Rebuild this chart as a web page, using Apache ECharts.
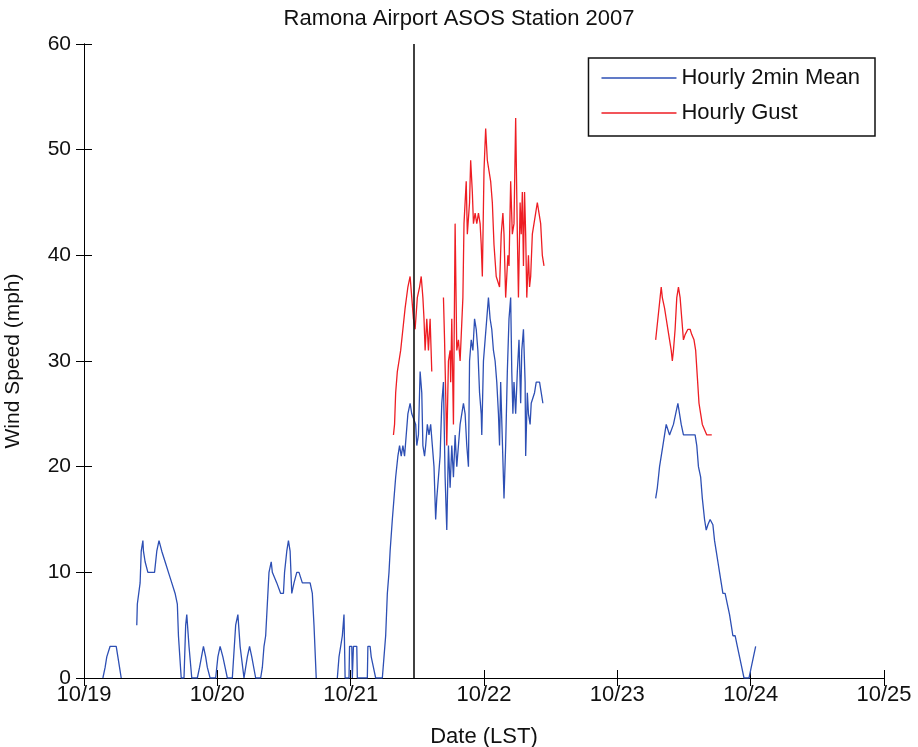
<!DOCTYPE html>
<html>
<head>
<meta charset="utf-8">
<script src="https://cdn.jsdelivr.net/npm/echarts@6/dist/echarts.min.js"></script>
<style>
html,body{margin:0;padding:0;background:#fff;}
#chart{width:918px;height:747px;}
</style>
</head>
<body>
<div id="chart"></div>
<script>
// Hours since 10/19 00:00 LST, wind speed (mph)
var tickLabels = ['10/19','10/20','10/21','10/22','10/23','10/24','10/25'];
var eventHour = 59.3; // vertical marker line

var meanEarly = [
 [3.4,0],[3.8,1],[4.1,2],[4.7,3],[5.8,3],[6.1,2],[6.4,1],[6.7,0]
];
var meanDay19b = [
 [9.5,5],[9.6,7],[10.1,9],[10.3,12],[10.6,13],[10.7,12],[11.0,11],[11.5,10],[12.7,10],
 [13.1,12],[13.5,13],[14.0,12],[14.6,11],[15.2,10],[15.8,9],[16.4,8],[16.8,7],[17.0,4],
 [17.5,0],[18.0,0],[18.3,5],[18.5,6],[18.9,3],[19.4,0],[20.4,0],[20.8,1],[21.15,2],[21.5,3],
 [21.9,2],[22.2,1],[22.7,0],[23.7,0],[24.1,2],[24.5,3],[25.0,2],[25.4,1],[25.8,0],[26.7,0],
 [27.3,5],[27.7,6],[28.1,3],[28.8,0],[29.0,0],[29.4,2],[29.8,3],[30.2,2],[30.9,0],[31.8,0],
 [32.1,1],[32.4,3],[32.7,4],[33.0,7],[33.3,10],[33.7,11],[33.9,10],[34.2,10],[34.7,9],[35.4,8],
 [35.9,8],[36.1,10],[36.5,12],[36.8,13],[37.1,12],[37.4,8],[37.8,9],[38.3,10],[38.7,10],[39.3,9],
 [40.7,9],[41.1,8],[41.4,5],[41.8,0]
];
var meanDay21 = [
 [45.6,0],[45.9,2],[46.2,3],[46.5,4],[46.8,6],[47.0,0],[47.7,0],[47.8,3],[48.2,3],[48.3,0],
 [48.5,3],[49.1,3],[49.2,0],[51.0,0],[51.1,3],[51.5,3],[51.7,2],[52.1,1],[52.5,0],[53.7,0],
 [54.0,2],[54.3,4],[54.6,8],[54.9,10],[55.1,12],[55.5,15],[55.8,17],[56.1,19],[56.5,21],[56.8,22],
 [57.1,21],[57.4,22],[57.7,21],[58.0,23],[58.3,25],[58.7,26],[59.0,25],[59.3,25],[59.7,24],[59.9,22],
 [60.2,23],[60.5,29],[60.8,27],[61.0,22],[61.3,21],[61.5,22],[61.8,24],[62.1,23],[62.4,24],[62.7,22],
 [63.0,20],[63.3,15],[63.5,17],[63.8,19],[64.1,21],[64.4,26],[64.7,28],[65.0,19],[65.3,14],[65.6,22],
 [65.9,18],[66.2,22],[66.5,19],[66.8,23],[67.1,20],[67.4,22],[67.7,24],[68.0,25],[68.3,26],[68.6,25],
 [68.9,22],[69.2,20],[69.4,30],[69.7,32],[70.0,31],[70.3,34],[70.6,33],[70.9,31],[71.2,27],[71.5,25],
 [71.6,23],[71.9,30],[72.2,32],[72.5,34],[72.8,36],[73.1,34],[73.4,33],[73.7,31],[74.0,30],[74.3,28],
 [74.6,25],[74.8,22],[75.0,28],[75.3,28],[75.6,17],[75.9,22],[76.2,29],[76.5,34],[76.8,36],[77.0,29],
 [77.2,25],[77.4,28],[77.7,25],[78.0,29],[78.3,32],[78.6,26],[78.8,31],[79.1,33],[79.4,28],[79.5,21],
 [79.8,27],[80.0,25],[80.3,24],[80.5,26],[80.8,26],[81.1,27],[81.4,28],[81.7,28],[82.0,28],[82.3,27],
 [82.6,26]
];
var meanDay23 = [
 [102.9,17],[103.2,18],[103.4,19],[103.6,20],[103.9,21],[104.2,22],[104.5,23],[104.8,24],[105.1,24],
 [105.4,23],[105.7,23],[106.1,24],[106.5,25],[106.9,26],[107.2,25],[107.5,24],[107.9,23],[110.0,23],
 [110.3,22],[110.6,20],[111.0,19],[111.3,17],[111.7,15],[112.0,14],[112.3,14.5],[112.7,15],[113.2,14.5],
 [113.5,13],[113.8,12],[114.1,11],[114.4,10],[114.7,9],[115.0,8],[115.4,8],[115.8,7],[116.2,6],
 [116.5,5],[116.8,4],[117.2,4],[117.6,3],[118.0,2],[118.4,1],[118.8,0],[119.7,0],[120.1,1],
 [120.5,2],[120.9,3]
];
var gustDay21a = [
 [55.7,23],[55.9,24],[56.1,27],[56.4,29],[56.7,30],[57.0,31],[57.4,33],[57.8,35],[58.3,37],[58.7,38],
 [59.0,36],[59.3,34],[59.6,33],[60.0,36],[60.4,37],[60.7,38],[61.0,36],[61.2,34],[61.4,31],[61.7,34],
 [62.0,31],[62.3,34],[62.6,29]
];
var gustDay21b = [
 [64.7,36],[64.9,32],[65.3,22],[65.6,30],[65.9,31],[66.0,28],[66.2,34],[66.5,24],[66.8,43],[67.1,31],
 [67.4,32],[67.7,30],[68.2,36],[68.4,43],[68.8,47],[69.0,42],[69.4,45],[69.6,49],[69.9,46],[70.1,43],
 [70.4,44],[70.7,43],[71.0,44],[71.3,43],[71.5,41],[71.7,38],[72.0,48],[72.3,52],[72.6,49],[72.9,48],
 [73.2,47],[73.5,45],[73.8,41],[74.2,38],[74.4,38],[74.8,37],[75.1,42],[75.4,44],[75.6,42],[75.9,36],
 [76.3,40],[76.5,39],[76.8,47],[77.1,42],[77.4,43],[77.7,53],[78.0,42],[78.2,36],[78.5,45],[78.7,42],
 [78.9,46],[79.1,39],[79.3,46],[79.5,42],[79.7,36],[80.0,40],[80.2,37],[80.4,38],[80.7,42],[81.0,43],
 [81.3,44],[81.6,45],[81.9,44],[82.2,43],[82.5,40],[82.8,39]
];
var gustDay23 = [
 [102.9,32],[103.1,33],[103.4,34.5],[103.7,36],[103.9,37],[104.1,36],[104.5,35],[104.8,34],[105.1,33],
 [105.4,32],[105.7,31],[105.9,30],[106.1,31],[106.4,33],[106.7,36],[107.0,37],[107.3,36],[107.6,34],
 [107.9,32],[108.2,32.5],[108.7,33],[109.1,33],[109.4,32.5],[109.8,32],[110.1,31],[110.4,28.5],
 [110.7,26],[111.0,25],[111.3,24],[111.7,23.5],[112.1,23],[113.0,23]
];

function joinSegments(segs){
  var out = [];
  segs.forEach(function(s, i){
    if (i > 0) out.push([s[0][0] - 0.05, null]);
    out = out.concat(s);
  });
  return out;
}
var meanData = joinSegments([meanEarly, meanDay19b, meanDay21, meanDay23]);
var gustData = joinSegments([gustDay21a, gustDay21b, gustDay23]);

var FONT = "'Liberation Sans', Arial, sans-serif";
var LINE_ICON = 'path://M0,0H75V1.4H0Z';
var chart = echarts.init(document.getElementById('chart'), null, {renderer:'canvas'});
var axisCommon = {
  type:'value',
  axisLine:{show:true, lineStyle:{color:'#000', width:1}},
  axisTick:{show:true, inside:true, length:8, lineStyle:{color:'#000', width:1}},
  splitLine:{show:false}
};
chart.setOption({
  animation:false,
  backgroundColor:'#fff',
  title:{
    text:'Ramona Airport ASOS Station 2007',
    left:'center', top:3,
    textStyle:{fontFamily:FONT, fontSize:22, fontWeight:'normal', color:'#111'}
  },
  legend:{
    right:43, top:58, orient:'vertical',
    itemWidth:75, itemHeight:22, itemGap:13,
    padding:[9,15,12,13],
    symbolKeepAspect:true,
    borderColor:'#111', borderWidth:1.5, backgroundColor:'#fff',
    textStyle:{fontFamily:FONT, fontSize:22, color:'#111', lineHeight:22},
    data:[{name:'Hourly 2min Mean', icon:LINE_ICON},{name:'Hourly Gust', icon:LINE_ICON}]
  },
  grid:{left:84, right:34, top:44, bottom:69, outerBoundsMode:'none', containLabel:false},
  xAxis:[
    Object.assign({}, axisCommon, {
      min:0, max:144, interval:24, position:'bottom',
      name:'Date (LST)', nameLocation:'middle', nameGap:48,
      nameTextStyle:{fontFamily:FONT, fontSize:22, color:'#111'},
      axisLabel:{fontFamily:FONT, fontSize:22, color:'#111', margin:6,
        formatter:function(v){ return tickLabels[Math.round(v/24)]; }}
    }),
    Object.assign({}, axisCommon, {
      min:0, max:144, interval:24, position:'top', axisLabel:{show:false}
    })
  ],
  yAxis:[
    Object.assign({}, axisCommon, {
      min:0, max:60, interval:10, position:'left',
      name:'Wind Speed (mph)', nameLocation:'middle', nameGap:60, nameRotate:90,
      nameTextStyle:{fontFamily:FONT, fontSize:21, color:'#111'},
      axisLabel:{fontFamily:FONT, fontSize:21, color:'#111', margin:13}
    }),
    Object.assign({}, axisCommon, {
      min:0, max:60, interval:10, position:'right', axisLabel:{show:false}
    })
  ],
  series:[
    {
      name:'Hourly 2min Mean', type:'line', data:meanData, showSymbol:false, symbol:'none',
      connectNulls:false, lineStyle:{color:'#2d4fb4', width:1.3}, itemStyle:{color:'#2d4fb4'},
      z:3
    },
    {
      name:'Hourly Gust', type:'line', data:gustData, showSymbol:false, symbol:'none',
      connectNulls:false, lineStyle:{color:'#ee1d23', width:1.3}, itemStyle:{color:'#ee1d23'},
      z:4,
      markLine:{
        silent:true, symbol:['none','none'], animation:false,
        label:{show:false},
        lineStyle:{color:'#111', width:1.6, type:'solid'},
        data:[{xAxis:eventHour}]
      }
    }
  ]
});
</script>
</body>
</html>
